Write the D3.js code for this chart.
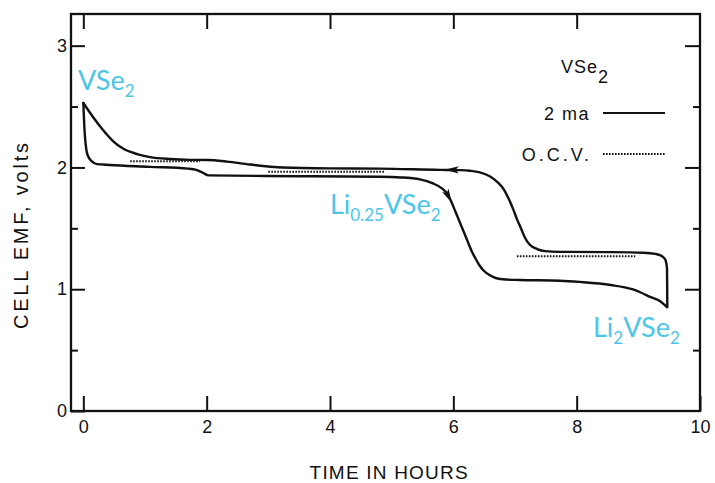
<!DOCTYPE html>
<html>
<head>
<meta charset="utf-8">
<script src="https://cdn.jsdelivr.net/npm/d3@7"></script>
<style>
    body { margin: 0; background: #fff; }
    svg { display: block; }
</style>
</head>
<body>
<div id="chart"></div>
<script>
// values: [time in hours, cell emf in volts]
const discharge = [
    [0, 2.53], [0.02, 2.30], [0.04, 2.18], [0.07, 2.10], [0.14, 2.05], [0.22, 2.027],
    [0.43, 2.02], [1.08, 2.005], [1.70, 1.99], [1.83, 1.98], [1.94, 1.956], [2.03, 1.935],
    [3.50, 1.928], [4.81, 1.923], [5.14, 1.918], [5.46, 1.902], [5.67, 1.869], [5.815, 1.828],
    [5.896, 1.787], [5.955, 1.732], [6.03, 1.642], [6.11, 1.544], [6.22, 1.408], [6.30, 1.31],
    [6.36, 1.252], [6.42, 1.199], [6.49, 1.154], [6.60, 1.112], [6.70, 1.09], [6.85, 1.08],
    [7.08, 1.076], [7.73, 1.07], [8.05, 1.06], [8.55, 1.035], [8.90, 1.0], [9.03, 0.975],
    [9.20, 0.935], [9.36, 0.90], [9.46, 0.855]
];

const charge = [
    [9.47, 0.853], [9.468, 1.0], [9.465, 1.17], [9.44, 1.24], [9.38, 1.272], [9.28, 1.29],
    [9.08, 1.30], [8.50, 1.305], [7.73, 1.307], [7.49, 1.313], [7.36, 1.33], [7.24, 1.365],
    [7.16, 1.425], [7.10, 1.496], [7.03, 1.578], [6.97, 1.658], [6.90, 1.74], [6.82, 1.818],
    [6.72, 1.878], [6.59, 1.928], [6.43, 1.96], [6.27, 1.973], [6.11, 1.978], [5.78, 1.98],
    [4.81, 1.99], [4.00, 1.992], [3.24, 2.0], [2.70, 2.024], [2.33, 2.048], [2.005, 2.061],
    [1.73, 2.062], [1.405, 2.069], [1.081, 2.085], [0.87, 2.11], [0.643, 2.155], [0.481, 2.217],
    [0.319, 2.307], [0.157, 2.414], [0, 2.53]
];

// open circuit voltage plateaus: [start, end, volts]
const ocv = [
    [0.76, 1.89, 2.05],
    [3.00, 4.89, 1.964],
    [7.03, 8.95, 1.27]
];

// direction arrows on the curves: [from, to]
const arrows = [
    [[5.896, 1.787], [5.975, 1.71]],
    [[6.10, 1.98], [5.86, 1.982]]
];

const xTicks = [0, 2, 4, 6, 8, 10];
const xTopTicks = [0, 2, 4, 6, 8];
const yTicks = [0, 1, 2, 3];
const yMinorTicks = [0.5, 1.5, 2.5];

const WIDTH = 715,
    HEIGHT = 483;

const margins = { top: 14, left: 71, bottom: 72, right: 15 };

const width = WIDTH - margins.left - margins.right,
    height = HEIGHT - margins.top - margins.bottom;

const FONT = "'Liberation Sans', Arial, sans-serif";
const CYAN = "#4cc5e6";

const svg = d3.select("#chart")
    .append("svg")
    .attr("width", WIDTH)
    .attr("height", HEIGHT);

const x = d3.scaleLinear().domain([-0.2, 10]).range([0, width]);
const y = d3.scaleLinear().domain([0, 3.26]).range([height, 0]);

const plot = svg.append("g")
    .attr("transform", `translate(${margins.left}, ${margins.top})`);

const styleAxis = (g) => {
    g.select(".domain").remove();
    g.selectAll(".tick line").attr("stroke", "#111").attr("stroke-width", 2);
    g.selectAll(".tick text")
        .attr("font-family", FONT)
        .attr("font-size", 18)
        .attr("fill", "#111");
};

// ticks point inwards on all four sides
plot.append("g")
    .attr("transform", `translate(0, ${height})`)
    .call(d3.axisBottom(x).tickValues(xTicks).tickSize(-15).tickPadding(9).tickFormat(d3.format("d")))
    .call(styleAxis);

plot.append("g")
    .call(d3.axisTop(x).tickValues(xTopTicks).tickSize(-15).tickFormat(""))
    .call(styleAxis);

plot.append("g")
    .call(d3.axisLeft(y).tickValues(yTicks).tickSize(-14).tickPadding(4).tickFormat(d3.format("d")))
    .call(styleAxis);

plot.append("g")
    .call(d3.axisLeft(y).tickValues(yMinorTicks).tickSize(-7).tickFormat(""))
    .call(styleAxis);

plot.append("g")
    .attr("transform", `translate(${width}, 0)`)
    .call(d3.axisRight(y).tickValues(yTicks.slice(1)).tickSize(-15).tickFormat(""))
    .call(styleAxis);

plot.append("g")
    .attr("transform", `translate(${width}, 0)`)
    .call(d3.axisRight(y).tickValues(yMinorTicks).tickSize(-7).tickFormat(""))
    .call(styleAxis);

plot.append("rect")
    .attr("width", width)
    .attr("height", height)
    .attr("fill", "none")
    .attr("stroke", "#111")
    .attr("stroke-width", 2.3);

// axis titles
svg.append("text")
    .attr("x", margins.left + x(4.95))
    .attr("y", 479)
    .attr("text-anchor", "middle")
    .attr("font-family", FONT)
    .attr("font-size", 19)
    .attr("fill", "#111")
    .attr("textLength", 158)
    .attr("lengthAdjust", "spacing")
    .text("TIME IN HOURS");

svg.append("text")
    .attr("transform", "translate(28, 236) rotate(-90)")
    .attr("text-anchor", "middle")
    .attr("font-family", FONT)
    .attr("font-size", 20)
    .attr("fill", "#111")
    .attr("textLength", 186)
    .attr("lengthAdjust", "spacing")
    .text("CELL EMF, volts");

// curves: x is monotonic along each branch
const line = d3.line()
    .x(d => x(d[0]))
    .y(d => y(d[1]))
    .curve(d3.curveMonotoneX);

plot.selectAll(".curve")
    .data([discharge, charge])
    .join("path")
    .attr("class", "curve")
    .attr("d", line)
    .attr("fill", "none")
    .attr("stroke", "#111")
    .attr("stroke-width", 2.4)
    .attr("stroke-linejoin", "round")
    .attr("stroke-linecap", "round");

plot.selectAll(".ocv")
    .data(ocv)
    .join("line")
    .attr("class", "ocv")
    .attr("x1", d => x(d[0]))
    .attr("x2", d => x(d[1]))
    .attr("y1", d => y(d[2]))
    .attr("y2", d => y(d[2]))
    .attr("stroke", "#111")
    .attr("stroke-width", 2)
    .attr("stroke-dasharray", "1.6 1.4");

plot.selectAll(".arrow")
    .data(arrows)
    .join("path")
    .attr("class", "arrow")
    .attr("d", "M0,0 L-14,-3.6 L-11,0 L-14,3.6 Z")
    .attr("fill", "#111")
    .attr("transform", d => {
        const angle = Math.atan2(y(d[1][1]) - y(d[0][1]), x(d[1][0]) - x(d[0][0])) * 180 / Math.PI;
        return `translate(${x(d[1][0])}, ${y(d[1][1])}) rotate(${angle})`;
    });

// legend
const legend = svg.append("g")
    .attr("font-family", FONT)
    .attr("font-size", 18)
    .attr("fill", "#111");

const legendTitle = legend.append("text")
    .attr("x", 561)
    .attr("y", 73)
    .attr("letter-spacing", 1);
legendTitle.append("tspan").text("VSe");
legendTitle.append("tspan").attr("dy", 10).text("2");

legend.append("text")
    .attr("x", 590)
    .attr("y", 120)
    .attr("text-anchor", "end")
    .attr("letter-spacing", 1.5)
    .text("2 ma");

legend.append("text")
    .attr("x", 592)
    .attr("y", 161)
    .attr("text-anchor", "end")
    .attr("letter-spacing", 3)
    .text("O.C.V.");

legend.append("line")
    .attr("x1", 603).attr("x2", 665)
    .attr("y1", 113).attr("y2", 113)
    .attr("stroke", "#111")
    .attr("stroke-width", 2.2);

legend.append("line")
    .attr("x1", 603).attr("x2", 665)
    .attr("y1", 154).attr("y2", 154)
    .attr("stroke", "#111")
    .attr("stroke-width", 2)
    .attr("stroke-dasharray", "1.6 1.4");

// cyan phase labels
const phaseLabel = (px, py, parts) => {
    const t = svg.append("text")
        .attr("x", px)
        .attr("y", py)
        .attr("font-family", "Lato, 'Open Sans', sans-serif")
        .attr("fill", CYAN);
    let down = false;
    parts.forEach(([str, sub]) => {
        const s = t.append("tspan").text(str);
        if (sub && !down) { s.attr("dy", 7); down = true; }
        else if (!sub && down) { s.attr("dy", -7); down = false; }
        s.attr("font-size", sub ? 17 : 27);
    });
};

phaseLabel(78, 90, [["VSe", false], ["2", true]]);
phaseLabel(330, 214, [["Li", false], ["0.25", true], ["VSe", false], ["2", true]]);
phaseLabel(593, 337, [["Li", false], ["2", true], ["VSe", false], ["2", true]]);
</script>
</body>
</html>
